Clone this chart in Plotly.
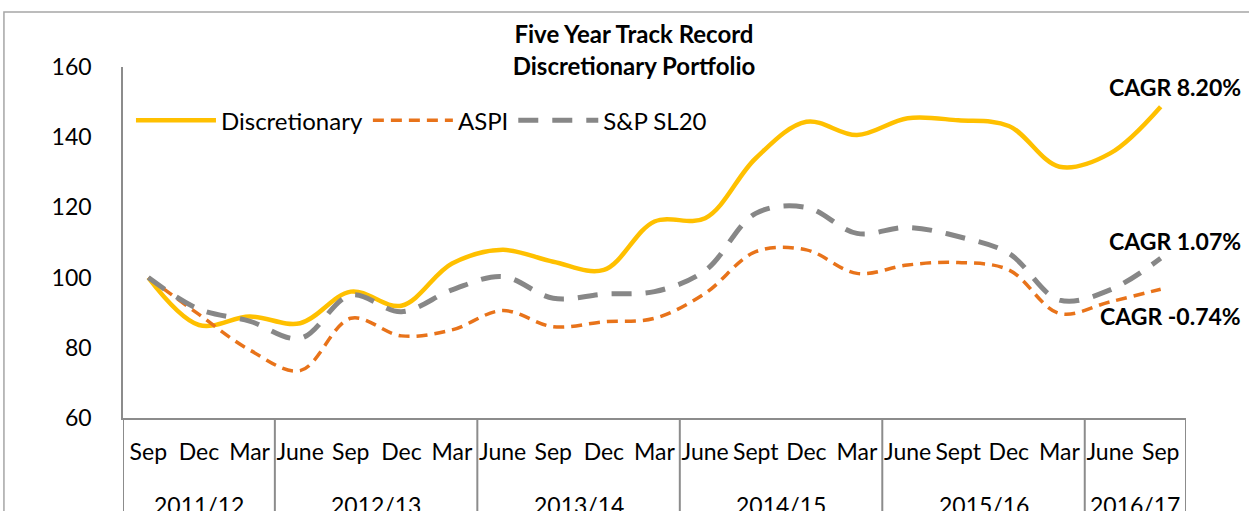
import plotly.graph_objects as go

# ---- data ----
fiscal_years = ["2011/12", "2012/13", "2013/14", "2014/15", "2015/16", "2016/17"]
quarters = [
    ["Sep", "Dec", "Mar"],
    ["June", "Sep", "Dec", "Mar"],
    ["June", "Sep", "Dec", "Mar"],
    ["June", "Sept", "Dec", "Mar"],
    ["June", "Sept", "Dec", "Mar"],
    ["June", "Sep"],
]
discretionary = [100, 86.5, 88.9, 87.0, 96.0, 92.0, 104.0, 107.9, 104.5, 102.2, 116.0,
                 116.9, 134.0, 144.4, 140.6, 145.4, 144.8, 143.2, 131.6, 135.4, 148.7]
aspi = [100, 89.5, 79.4, 73.5, 88.4, 83.4, 85.1, 90.6, 86.0, 87.4, 88.4,
        95.5, 107.4, 107.9, 101.2, 103.6, 104.3, 102.2, 89.8, 93.1, 96.7]
sp_sl20 = [100, 91.0, 87.6, 82.7, 95.0, 90.3, 96.5, 100.3, 94.1, 95.3, 96.0,
           102.0, 118.3, 120.0, 112.6, 114.3, 111.7, 106.9, 93.6, 96.5, 105.5]
cagr_labels = ["CAGR 8.20%", "CAGR 1.07%", "CAGR -0.74%"]
cagr_label_y = [154.3, 110.4, 89.1]

quarter_labels = [q for qs in quarters for q in qs]
idx = list(range(len(quarter_labels)))

FONT = "Lato"
GRAY = "#8C8C8C"

fig = go.Figure()
fig.add_trace(go.Scatter(x=idx, y=discretionary, name="Discretionary", mode="lines",
                         line=dict(color="#FFC000", width=4.5, shape="spline")))
fig.add_trace(go.Scatter(x=idx, y=aspi, name="ASPI", mode="lines",
                         line=dict(color="#E8731A", width=3.5, shape="spline", dash="11px,7px")))
fig.add_trace(go.Scatter(x=idx, y=sp_sl20, name="S&P SL20", mode="lines",
                         line=dict(color="#878787", width=5, shape="spline", dash="20px,14px")))

# fiscal-year group labels and dividers (derived from group sizes)
start = 0
bounds = [-0.5]
for fy, qs in zip(fiscal_years, quarters):
    end = start + len(qs) - 1
    fig.add_annotation(text=fy, xref="x", yref="paper", x=(start + end) / 2, y=-0.248,
                       xanchor="center", yanchor="middle", showarrow=False,
                       font=dict(size=23, color="black", family=FONT))
    bounds.append(end + 0.5)
    start = end + 1
for b in bounds:
    fig.add_shape(type="line", xref="x", yref="paper", x0=b, x1=b, y0=0, y1=-0.35,
                  line=dict(color=GRAY, width=2))

# CAGR annotations
for text, yv in zip(cagr_labels, cagr_label_y):
    fig.add_annotation(text=f"<b>{text}</b>", xref="paper", yref="y", x=1.0536, y=yv,
                       xanchor="right", yanchor="middle", showarrow=False,
                       font=dict(size=23, color="black", family=FONT))

# outer chart border (cropped)
fig.add_shape(type="rect", xref="paper", yref="paper", x0=-0.112, x1=1.2, y0=-0.6, y1=1.157,
              line=dict(color="#A6A6A6", width=1.5), layer="below")

fig.update_layout(
    width=1249, height=511,
    margin=dict(l=123, r=63, t=67, b=93),
    paper_bgcolor="white", plot_bgcolor="white",
    font=dict(family=FONT, size=23, color="black"),
    title=dict(text="<b>Five Year Track Record<br>Discretionary Portfolio</b>",
               x=0.5076, xanchor="center", y=0.915, yanchor="middle",
               font=dict(size=24, family=FONT, color="black")),
    legend=dict(orientation="h", x=0.0075, xanchor="left", y=0.847, yanchor="middle",
                font=dict(size=24), itemwidth=80, bgcolor="rgba(0,0,0,0)"),
    showlegend=True,
)
fig.update_xaxes(range=[-0.5, len(idx) - 0.5], tickvals=idx, ticktext=quarter_labels,
                 showline=True, linecolor=GRAY, linewidth=1.5, showgrid=False, zeroline=False,
                 ticks="", ticklabelstandoff=13, tickfont=dict(size=23), automargin=False)
fig.update_yaxes(range=[60, 160], dtick=20, showline=True, linecolor=GRAY, linewidth=1.5,
                 showgrid=False, zeroline=False, ticks="", ticklabelstandoff=25,
                 tickfont=dict(size=23), automargin=False)

fig.write_html("out.html", config={"displayModeBar": False},
               post_script="document.body.style.margin='0';")
